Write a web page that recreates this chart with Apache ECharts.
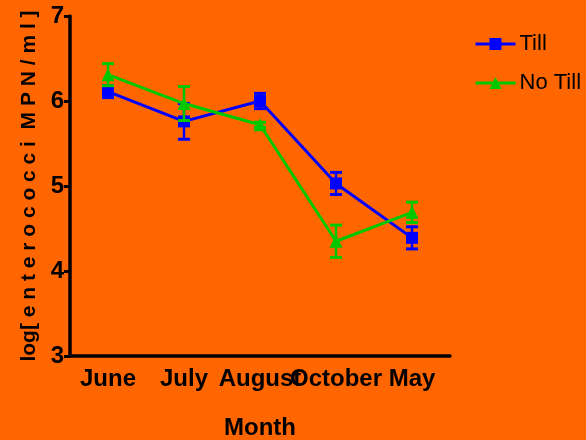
<!DOCTYPE html>
<html><head><meta charset="utf-8">
<script src="https://cdn.jsdelivr.net/npm/echarts@6/dist/echarts.min.js"></script>
<style>html,body{margin:0;padding:0;background:#ff6600;}#c{width:586px;height:440px;}</style>
</head><body><div id="c"></div>
<script>
const months = ['June', 'July', 'August', 'October', 'May'];
const tillMean = [6.11, 5.76, 6.00, 5.03, 4.39];
const tillErr = [0.07, 0.21, 0.09, 0.13, 0.13];
const noTillMean = [6.31, 5.97, 5.72, 4.35, 4.69];
const noTillErr = [0.13, 0.20, 0.03, 0.19, 0.12];
const yTicks = [3, 4, 5, 6, 7];

const BLUE = '#0000ff', GREEN = '#00c800';
function errData(mean, err) { return mean.map((m, i) => [i, m - err[i], m + err[i]]); }
function errSeries(mean, err, color, z) {
  return {
    type: 'custom', z: z, silent: true,
    data: errData(mean, err),
    renderItem: function (params, api) {
      const x = api.coord([api.value(0), api.value(1)])[0];
      const lo = api.coord([api.value(0), api.value(1)])[1];
      const hi = api.coord([api.value(0), api.value(2)])[1];
      const hw = 6;
      return { type: 'group', children: [
        { type: 'line', shape: { x1: x, y1: lo, x2: x, y2: hi }, style: { stroke: color, lineWidth: 2.5 } },
        { type: 'line', shape: { x1: x - hw, y1: lo, x2: x + hw, y2: lo }, style: { stroke: color, lineWidth: 3 } },
        { type: 'line', shape: { x1: x - hw, y1: hi, x2: x + hw, y2: hi }, style: { stroke: color, lineWidth: 3 } }
      ]};
    }
  };
}
const chart = echarts.init(document.getElementById('c'));
chart.setOption({
  backgroundColor: '#ff6600',
  animation: false,
  textStyle: { fontFamily: 'Liberation Sans, Arial, sans-serif' },
  grid: { left: 70, right: 136, top: 16, bottom: 84, containLabel: false, outerBoundsMode: 'none' },
  legend: {
    orient: 'vertical', left: 474, top: 33, padding: 0, itemWidth: 40, itemHeight: 15, itemGap: 17,
    lineStyle: { width: 3 },
    textStyle: { fontSize: 22, color: '#000', padding: [0, 0, 0, -1] },
    data: ['Till', 'No Till']
  },
  xAxis: {
    type: 'category', data: months, boundaryGap: true,
    name: 'Month', nameLocation: 'middle', nameGap: 60,
    nameTextStyle: { fontSize: 24, fontWeight: 'bold', color: '#000' },
    axisLine: { lineStyle: { color: '#000', width: 3.5 } },
    axisTick: { alignWithLabel: true, length: 6, lineStyle: { color: '#000', width: 3 } },
    axisLabel: { fontSize: 24, fontWeight: 'bold', color: '#000', margin: 11, interval: 0 }
  },
  yAxis: {
    type: 'value', min: yTicks[0], max: yTicks[yTicks.length - 1], interval: 1,
    name: 'log[ e n t e r o c o c c i  M P N / m l ]', nameLocation: 'middle', nameGap: 25,
    nameTextStyle: { fontSize: 21, fontWeight: 'bold', color: '#000' },
    splitLine: { show: false },
    axisLine: { show: true, lineStyle: { color: '#000', width: 3.5 } },
    axisTick: { show: true, length: 6, lineStyle: { color: '#000', width: 3 } },
    axisLabel: { fontSize: 24, fontWeight: 'bold', color: '#000', margin: 6, padding: [6, 0, 0, 0],
      formatter: function (v) { return yTicks.indexOf(v) >= 0 ? String(v) : ''; } }
  },
  series: [
    errSeries(tillMean, tillErr, BLUE, 2),
    { name: 'Till', type: 'line', data: tillMean, z: 3, color: BLUE,
      symbol: 'rect', symbolSize: [12, 12],
      lineStyle: { color: BLUE, width: 3 }, itemStyle: { color: BLUE } },
    errSeries(noTillMean, noTillErr, GREEN, 4),
    { name: 'No Till', type: 'line', data: noTillMean, z: 5, color: GREEN,
      symbol: 'triangle', symbolSize: [13, 13],
      lineStyle: { color: GREEN, width: 3 }, itemStyle: { color: GREEN } }
  ]
});
</script></body></html>
